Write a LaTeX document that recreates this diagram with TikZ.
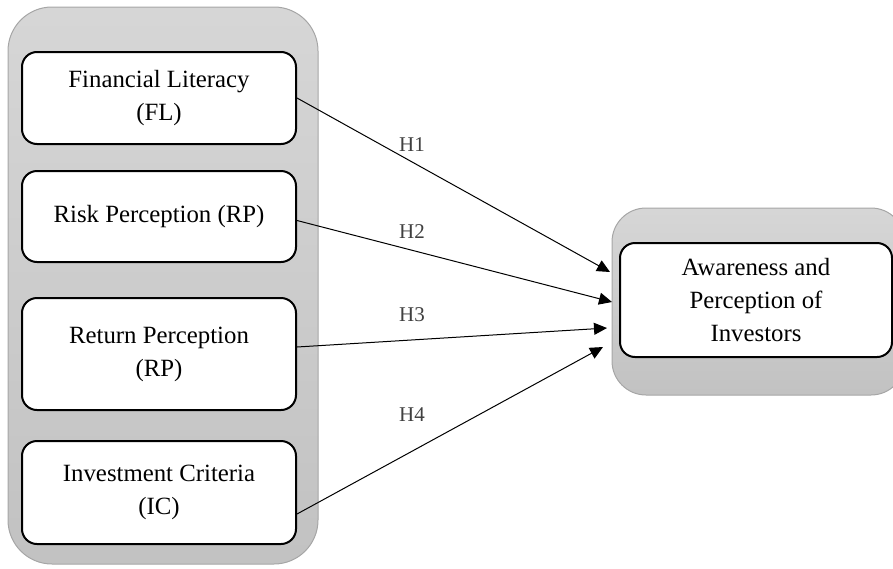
\documentclass[tikz,border=0pt]{standalone}
\usepackage{fontspec}
\setmainfont{Liberation Serif}
\usetikzlibrary{arrows.meta}

\begin{document}
\begin{tikzpicture}
    [x=0.5pt, y=-0.5pt,
    grp/.style={rectangle,
        draw=black!35, rounded corners=22pt,
        top color=black!16, bottom color=black!24,
        inner sep=0pt},
    var/.style={rectangle,
        draw, line width=1pt, rounded corners=7.5pt,
        fill=white, align=center, inner sep=0pt,
        minimum width=137pt,
        font=\fontsize{12.4}{16.5}\selectfont},
    hyp/.style={text=black!75,
        font=\fontsize{10.5}{12}\selectfont},
    >={Triangle[length=6.5pt,width=6pt]},
    line width=0.5pt]

    \clip (0,0) rectangle (893,568);

    % panels
    \node[grp, minimum width=155pt, minimum height=278.5pt]
        (left) at (163,285.5) {};
    \node[grp, rounded corners=17pt, minimum width=146.5pt, minimum height=93.5pt]
        (right) at (758.5,301.5) {};

    % constructs
    \node[var, minimum height=46pt] (fl) at (159,98)
        {Financial Literacy\\(FL)};
    \node[var, minimum height=45.5pt] (rp) at (159,216.5)
        {Risk Perception (RP)};
    \node[var, minimum height=56pt] (ret) at (159,354)
        {Return Perception\\(RP)};
    \node[var, minimum height=51.5pt] (ic) at (159,492.5)
        {Investment Criteria\\(IC)};
    \node[var, minimum width=136pt, minimum height=57pt] (api) at (756,300)
        {Awareness and\\Perception of\\Investors};

    % arrow ends
    \coordinate (h1end) at (610,272);
    \coordinate (h2end) at (612,302);
    \coordinate (h3end) at (607,328);
    \coordinate (h4end) at (603,347);

    \draw[->] (fl.east) -- (h1end);
    \draw[->] ([yshift=-2pt]rp.east) -- (h2end);
    \draw[->] ([yshift=3.5pt]ret.east) -- (h3end);
    \draw[->] ([yshift=-10.75pt]ic.east) -- (h4end);

    % hypotheses
    \node[hyp] (h1) at (412,145) {H1};
    \node[hyp] (h2) at (412,232) {H2};
    \node[hyp] (h3) at (412,315) {H3};
    \node[hyp] (h4) at (412,415) {H4};
\end{tikzpicture}
\end{document}
